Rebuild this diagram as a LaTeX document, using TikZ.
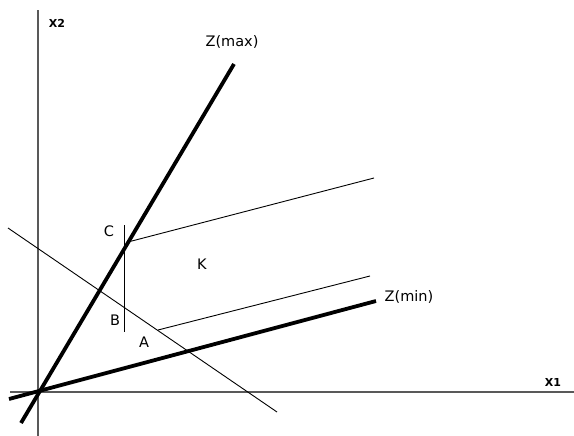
\documentclass[tikz,border=0pt]{standalone}
\usepackage{fontspec}
\setmainfont{DejaVu Sans}
\begin{document}
\begin{tikzpicture}[x=1pt,y=-1pt,
  axis/.style={draw=black!65,line width=1.6pt},
  objline/.style={draw=black,line width=3.8pt},
  thinline/.style={draw=black,line width=0.9pt},
  lbl/.style={font=\fontsize{14.5}{14.5}\selectfont,text=black,inner sep=0pt},
  axlbl/.style={font=\fontsize{11}{11}\selectfont\bfseries,text=black,inner sep=0pt}]
\useasboundingbox (0,0) rectangle (574,436);
% axes
\coordinate (ytop) at (38,10);
\coordinate (ybot) at (38,436);
\coordinate (xl) at (10,392);
\coordinate (xr) at (574,392);
\draw[axis] (ybot) -- (ytop);
\draw[axis] (xl) -- (xr);
% objective lines
\coordinate (maxlo) at (21,423);
\coordinate (maxhi) at (234,64);
\coordinate (minlo) at (9,399);
\coordinate (minhi) at (376,301);
\draw[objline] (maxlo) -- (maxhi);
\draw[objline] (minlo) -- (minhi);
% constraint line
\coordinate (cl) at (8,228);
\coordinate (cr) at (277,412);
\draw[thinline] (cl) -- (cr);
% vertical segment
\coordinate (vt) at (124,225);
\coordinate (vb) at (124,332);
\draw[thinline] (vt) -- (vb);
% rays
\coordinate (r1s) at (128,242);
\coordinate (r1e) at (374,178);
\coordinate (r2s) at (158,330);
\coordinate (r2e) at (370,276);
\draw[thinline] (r1s) -- (r1e);
\draw[thinline] (r2s) -- (r2e);
% labels
\node[axlbl] (lx2) at (57,23) {X2};
\node[axlbl] (lx1) at (553,382) {X1};
\node[lbl] (lzmax) at (232,42) {Z(max)};
\node[lbl] (lzmin) at (409,297) {Z(min)};
\node[lbl] (lc) at (109,231) {C};
\node[lbl] (lk) at (202,264) {K};
\node[lbl] (lb) at (115,320) {B};
\node[lbl] (la) at (144,342) {A};
\end{tikzpicture}
\end{document}
